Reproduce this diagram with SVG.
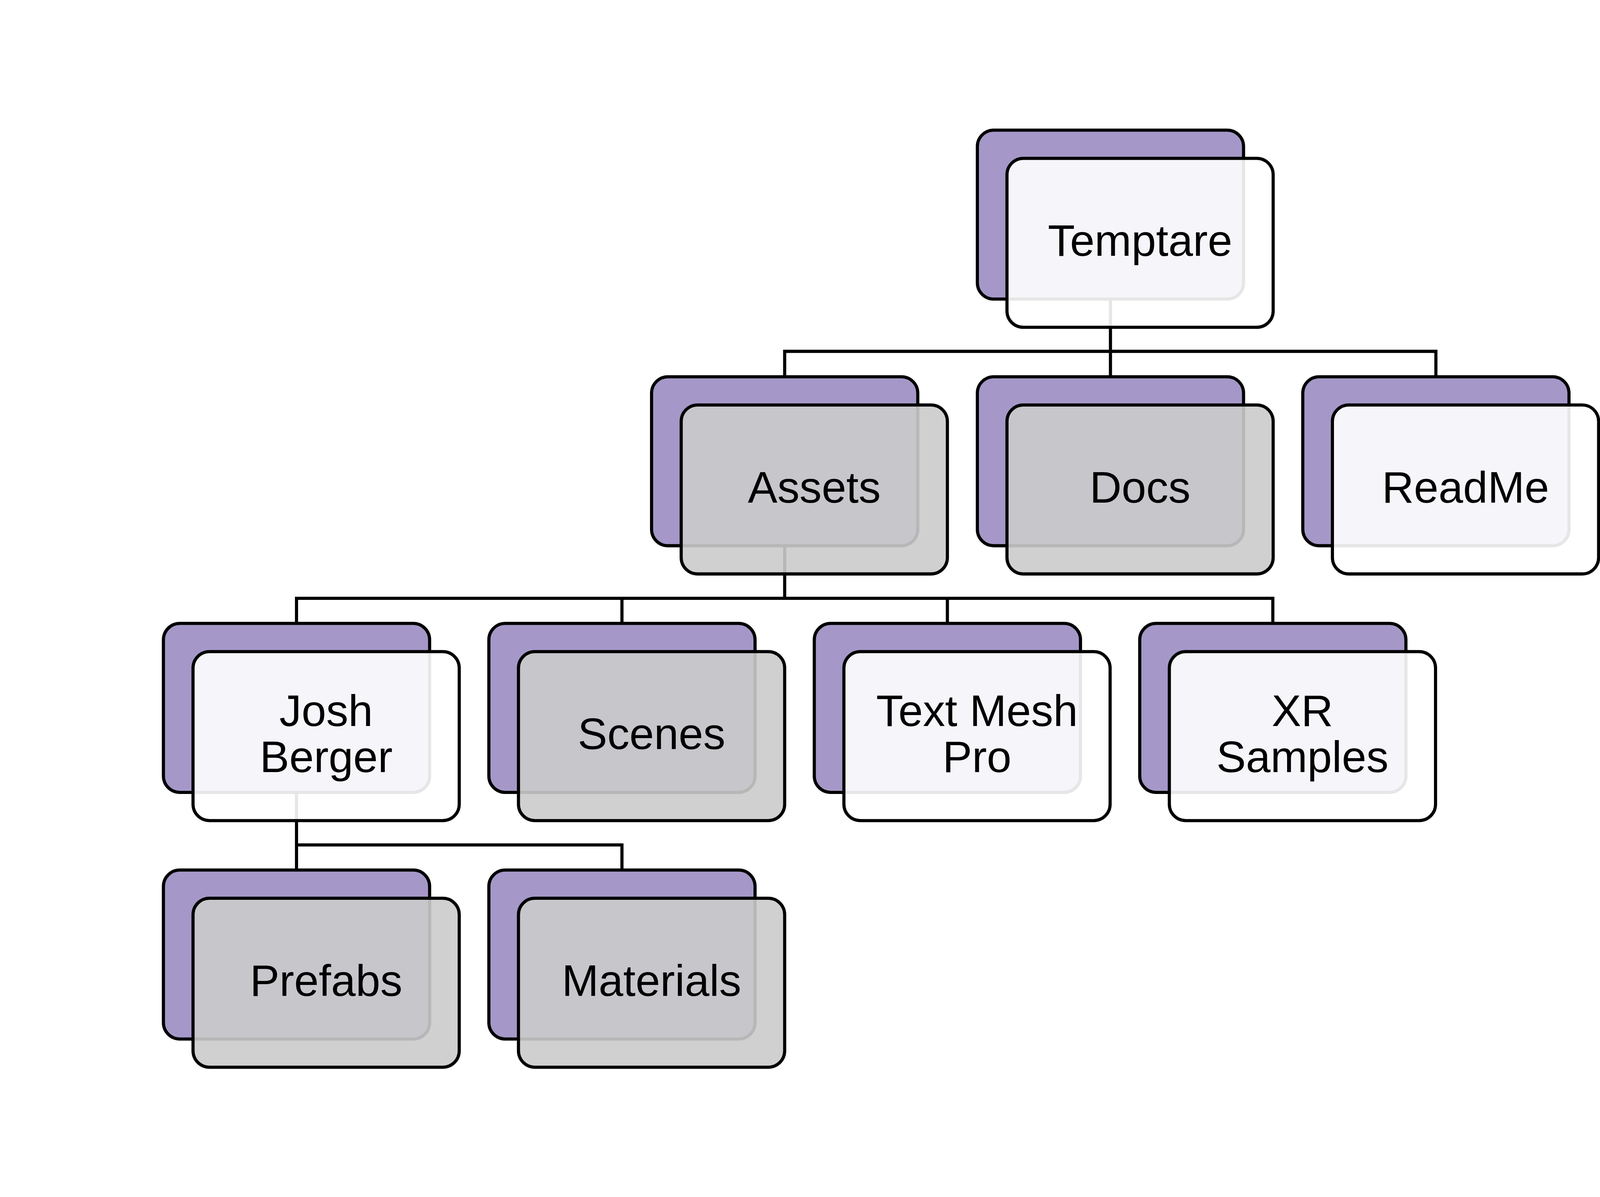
<svg xmlns="http://www.w3.org/2000/svg" width="4592" height="3065" viewBox="0 0 4592 3065">
<style>
svg{width:100%;height:100%}
.bg{fill:#ffffff}
.back{fill:#A598C8;stroke:#000;stroke-width:9}
.fw{fill:#ffffff;fill-opacity:0.9;stroke:#000;stroke-width:9}
.fg{fill:#CBCBCB;fill-opacity:0.9;stroke:#000;stroke-width:9}
.conn{fill:none;stroke:#000;stroke-width:9;stroke-linejoin:miter}
.lbl{font-family:"Liberation Sans",Arial,sans-serif;font-size:127px;fill:#000;text-anchor:middle}
</style>
<rect class="bg" x="0" y="0" width="4592" height="3065"/>
<g id="connectors">
<path class="conn" d="M3187 673 V823 M2252 896 V823 H4121 V896 M3187 823 V896"/>
<path class="conn" d="M2252 1381 V1532 M851 1604 V1532 H3653 V1604 M1785 1532 V1604 M2719 1532 V1604"/>
<path class="conn" d="M851 2089 V2240 M851 2312 V2240 H1785 V2312"/>
</g>
<g id="temptare">
<rect class="back" x="2805" y="188" width="764" height="485" rx="47"/>
<rect class="fw" x="2890" y="269" width="764" height="485" rx="47"/>
<text class="lbl" x="3272" y="549">Temptare</text>
</g>
<g id="assets">
<rect class="back" x="1870" y="896" width="764" height="485" rx="47"/>
<rect class="fg" x="1955" y="977" width="764" height="485" rx="47"/>
<text class="lbl" x="2337" y="1257">Assets</text>
</g>
<g id="docs">
<rect class="back" x="2805" y="896" width="764" height="485" rx="47"/>
<rect class="fg" x="2890" y="977" width="764" height="485" rx="47"/>
<text class="lbl" x="3272" y="1257">Docs</text>
</g>
<g id="readme">
<rect class="back" x="3739" y="896" width="764" height="485" rx="47"/>
<rect class="fw" x="3824" y="977" width="764" height="485" rx="47"/>
<text class="lbl" x="4206" y="1257">ReadMe</text>
</g>
<g id="josh-berger">
<rect class="back" x="469" y="1604" width="764" height="485" rx="47"/>
<rect class="fw" x="554" y="1685" width="764" height="485" rx="47"/>
<text class="lbl" x="936" y="1899">Josh</text>
<text class="lbl" x="936" y="2031">Berger</text>
</g>
<g id="scenes">
<rect class="back" x="1403" y="1604" width="764" height="485" rx="47"/>
<rect class="fg" x="1488" y="1685" width="764" height="485" rx="47"/>
<text class="lbl" x="1870" y="1965">Scenes</text>
</g>
<g id="text-mesh-pro">
<rect class="back" x="2337" y="1604" width="764" height="485" rx="47"/>
<rect class="fw" x="2422" y="1685" width="764" height="485" rx="47"/>
<text class="lbl" x="2804" y="1899">Text Mesh</text>
<text class="lbl" x="2804" y="2031">Pro</text>
</g>
<g id="xr-samples">
<rect class="back" x="3271" y="1604" width="764" height="485" rx="47"/>
<rect class="fw" x="3356" y="1685" width="764" height="485" rx="47"/>
<text class="lbl" x="3738" y="1899">XR</text>
<text class="lbl" x="3738" y="2031">Samples</text>
</g>
<g id="prefabs">
<rect class="back" x="469" y="2312" width="764" height="485" rx="47"/>
<rect class="fg" x="554" y="2393" width="764" height="485" rx="47"/>
<text class="lbl" x="936" y="2673">Prefabs</text>
</g>
<g id="materials">
<rect class="back" x="1403" y="2312" width="764" height="485" rx="47"/>
<rect class="fg" x="1488" y="2393" width="764" height="485" rx="47"/>
<text class="lbl" x="1870" y="2673">Materials</text>
</g>
</svg>
